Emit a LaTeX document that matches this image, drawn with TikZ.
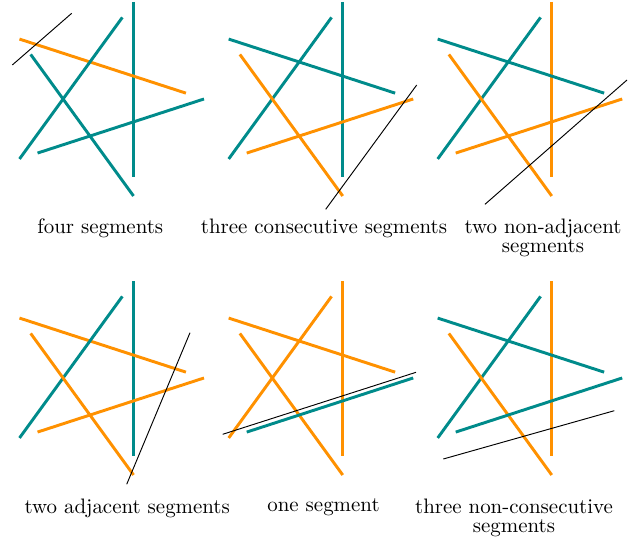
\documentclass[tikz,border=0pt]{standalone}
\usepackage{tikz}
\definecolor{segTeal}{RGB}{0,139,139}
\definecolor{segOrange}{RGB}{255,145,0}

% five segments, each one turned 72 degrees from the last
\newcommand{\pentastar}[5]{%
  \foreach \k/\col in {0/#1,1/#2,2/#3,3/#4,4/#5}
    \draw[seg, \col, rotate=72*\k] (31.5,-97) -- (31.5,78);
}

\begin{document}
\begin{tikzpicture}[x=0.478pt, y=-0.478pt,
    seg/.style={line width=1.4pt},
    cut/.style={black, line width=0.45pt},
    caption/.style={align=center, inner sep=0pt, anchor=north}
  ]
  \useasboundingbox (0,0) rectangle (628,541);

  % top row
  \begin{scope}[shift={(102,99)}]
    \pentastar{segTeal}{segOrange}{segTeal}{segTeal}{segTeal}
    \draw[cut] (-89.7,-34) -- (-30.3,-85.7);
  \end{scope}
  \begin{scope}[shift={(311.2,99)}]
    \pentastar{segTeal}{segTeal}{segTeal}{segOrange}{segOrange}
    \draw[cut] (14.5,110.3) -- (105.5,-14);
  \end{scope}
  \begin{scope}[shift={(520.2,99)}]
    \pentastar{segOrange}{segTeal}{segTeal}{segOrange}{segOrange}
    \draw[cut] (-35.2,105.3) -- (106.8,-19);
  \end{scope}

  \node[caption] (capFour) at (100.3,218.5) {four segments};
  \node[caption] (capThreeCons) at (324,218.5) {three consecutive segments};
  \node[caption] (capTwoNonAdj) at (543,218.5) {two non-adjacent\\[-3pt]segments};

  % bottom row
  \begin{scope}[shift={(102,378)}]
    \pentastar{segTeal}{segOrange}{segTeal}{segOrange}{segOrange}
    \draw[cut] (24.7,106.3) -- (88,-45.3);
  \end{scope}
  \begin{scope}[shift={(311.2,378)}]
    \pentastar{segOrange}{segOrange}{segOrange}{segOrange}{segTeal}
    \draw[cut] (-88.5,56.3) -- (104.8,-5.7);
  \end{scope}
  \begin{scope}[shift={(520.2,378)}]
    \pentastar{segOrange}{segTeal}{segTeal}{segOrange}{segTeal}
    \draw[cut] (-76.9,81) -- (94.1,32.7);
  \end{scope}

  \node[caption] (capTwoAdj) at (127.2,498.5) {two adjacent segments};
  \node[caption] (capOne) at (323.5,498.5) {one segment};
  \node[caption] (capThreeNonCons) at (514,498.5) {three non-consecutive\\[-3pt]segments};
\end{tikzpicture}
\end{document}
